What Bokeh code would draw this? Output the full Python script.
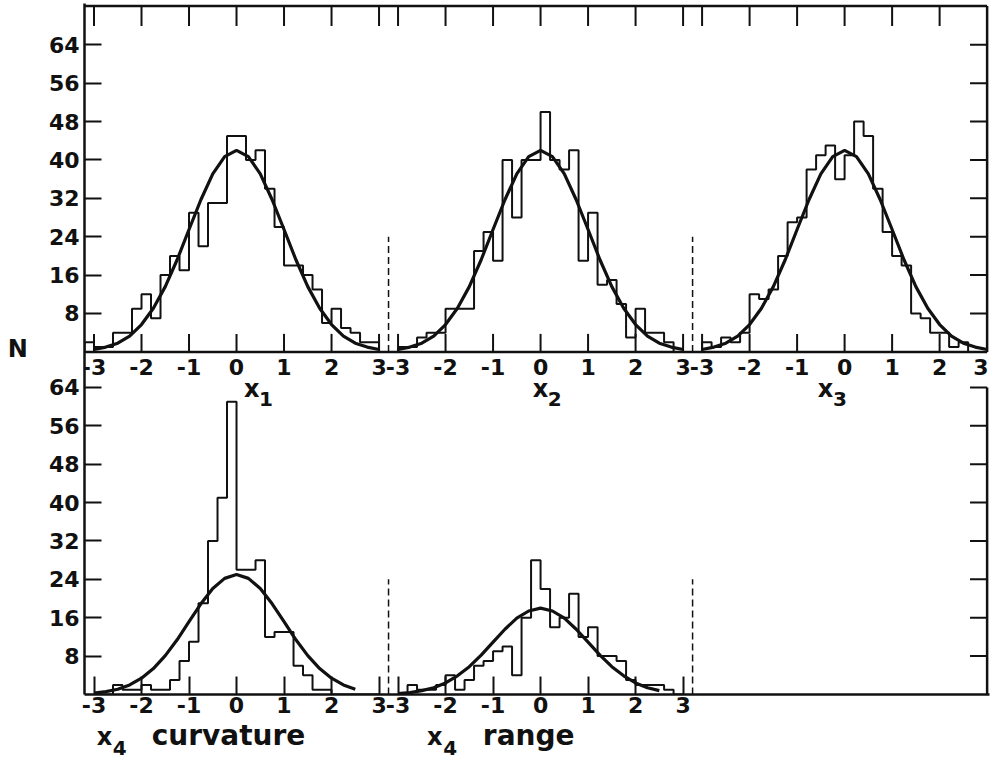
from bokeh.plotting import figure
from bokeh.layouts import column
from bokeh.models import Range1d, FixedTicker, ColumnDataSource, Label
from bokeh.core.properties import value, field
from bokeh.embed import file_html
from bokeh.resources import INLINE

# ---- data -------------------------------------------------------------
BIN = 0.2                      # bin width, in units of sigma

x1_left = -3.2
x1_counts = [2, 1, 1, 4, 4, 9, 12, 7, 16, 20, 17, 29, 22, 31, 31, 45, 45, 40,
             42, 34, 26, 18, 18, 16, 13, 6, 9, 5, 4, 2, 2]
x2_left = -3.0
x2_counts = [1, 1, 3, 4, 4, 9, 9, 9, 21, 25, 19, 40, 28, 40, 40, 50, 40, 38,
             42, 19, 29, 14, 15, 10, 3, 9, 4, 4, 2, 0]
x3_left = -3.0
x3_counts = [2, 1, 3, 2, 4, 12, 11, 13, 20, 27, 28, 38, 41, 43, 36, 41, 48, 45,
             34, 25, 20, 18, 8, 7, 4, 4, 1, 2, 0, 0]
curv_left = -3.0
curv_counts = [0, 0, 2, 1, 1, 2, 1, 1, 3, 7, 11, 19, 32, 41, 61, 26, 26, 28,
               12, 13, 13, 6, 4, 1, 1, 0, 0, 0, 0, 0]
range_left = -3.0
range_counts = [0, 2, 1, 1, 2, 4, 1, 3, 6, 7, 9, 10, 4, 16, 28, 22, 14, 16,
                21, 12, 14, 8, 8, 7, 3, 2, 2, 2, 1, 0]

# fitted normal curves, sampled along the axis
fit_x = [-3.0, -2.75, -2.5, -2.25, -2.0, -1.75, -1.5, -1.25, -1.0, -0.75, -0.5,
         -0.25, 0.0, 0.25, 0.5, 0.75, 1.0, 1.25, 1.5, 1.75, 2.0, 2.25, 2.5,
         2.75, 3.0]
x1_fit = [0.5, 1.0, 1.8, 3.3, 5.7, 9.1, 13.6, 19.2, 25.5, 31.7, 37.1, 40.7,
          42.0, 40.7, 37.1, 31.7, 25.5, 19.2, 13.6, 9.1, 5.7, 3.3, 1.8, 1.0, 0.5]
x2_fit = [0.5, 1.0, 1.8, 3.3, 5.7, 9.1, 13.6, 19.2, 25.5, 31.7, 37.1, 40.7,
          42.0, 40.7, 37.1, 31.7, 25.5, 19.2, 13.6, 9.1, 5.7, 3.3, 1.8, 1.0, 0.5]
x3_fit = [0.5, 1.0, 1.8, 3.3, 5.7, 9.1, 13.6, 19.2, 25.5, 31.7, 37.1, 40.7,
          42.0, 40.7, 37.1, 31.7, 25.5, 19.2, 13.6, 9.1, 5.7, 3.3, 1.8, 1.0, 0.5]
curv_fit = [0.3, 0.6, 1.1, 2.0, 3.4, 5.4, 8.1, 11.4, 15.2, 18.9, 22.1, 24.2,
            25.0, 24.2, 22.1, 18.9, 15.2, 11.4, 8.1, 5.4, 3.4, 2.0, 1.1]
range_fit = [0.2, 0.4, 0.8, 1.4, 2.4, 3.9, 5.8, 8.2, 10.9, 13.6, 15.9, 17.4,
             18.0, 17.4, 15.9, 13.6, 10.9, 8.2, 5.8, 3.9, 2.4, 1.4, 0.8]

x_tick_values = [-3, -2, -1, 0, 1, 2, 3]
n_tick_values = [8, 16, 24, 32, 40, 48, 56, 64]

# ---- layout constants ---------------------------------------------------
SECTION = 6.4        # horizontal offset between side-by-side histograms
TOP = 71.4           # vertical offset of the upper row
ROW_H = 72.1         # height of a row in counts
X_MIN, X_MAX = -3.2, 15.8
INK = "#111111"
FONT = "DejaVu Sans"
TICK_FONT_SIZE = "22px"

x_range = Range1d(X_MIN, 15.85)

p = figure(width=990, height=720, x_range=x_range,
           y_range=Range1d(0, 144), output_backend="svg", toolbar_location=None,
           min_border_left=84, min_border_right=1, min_border_top=3,
           min_border_bottom=26)
p.outline_line_color = None
p.grid.visible = False
p.background_fill_color = "white"
p.border_fill_color = "white"

# left axis: the N scale, repeated for both rows
y_ticks = [round(v, 4) for v in n_tick_values] + [round(v + TOP, 4) for v in n_tick_values]
ya = p.yaxis[0]
ya.ticker = FixedTicker(ticks=y_ticks)
ya.major_label_overrides = {t: str(v) for t, v in zip(y_ticks, n_tick_values * 2)}
ya.major_tick_in = 17
ya.major_tick_out = 0
ya.minor_tick_in = 0
ya.minor_tick_out = 0
ya.axis_line_width = 2.5
ya.axis_line_color = INK
ya.major_tick_line_width = 2
ya.major_tick_line_color = INK
ya.major_label_text_font = FONT
ya.major_label_text_font_style = "bold"
ya.major_label_text_font_size = TICK_FONT_SIZE
ya.major_label_text_color = INK
ya.major_label_standoff = 5
ya.axis_label = "N"
ya.axis_label_orientation = "horizontal"
ya.axis_label_text_font = FONT
ya.axis_label_text_font_style = "bold"
ya.axis_label_text_font_size = "24px"
ya.axis_label_text_color = INK
ya.axis_label_standoff = 18

# bottom axis: the lower row has two histograms
x_ticks, x_labels = [], []
for col in (0, 1):
    for t in x_tick_values:
        x_ticks.append(round(t + SECTION * col, 4))
        x_labels.append(str(t))
xa = p.xaxis[0]
xa.ticker = FixedTicker(ticks=x_ticks)
xa.major_label_overrides = dict(zip(x_ticks, x_labels))
xa.major_tick_in = 18
xa.major_tick_out = 0
xa.minor_tick_in = 0
xa.minor_tick_out = 0
xa.axis_line_width = 2.5
xa.axis_line_color = INK
xa.major_tick_line_width = 2
xa.major_tick_line_color = INK
xa.major_label_text_font = FONT
xa.major_label_text_font_style = "bold"
xa.major_label_text_font_size = TICK_FONT_SIZE
xa.major_label_text_color = INK
xa.major_label_standoff = 2

# frame pieces that are not axes
top_edge = TOP + ROW_H
p.segment(x0=[X_MIN, X_MIN, X_MAX, X_MAX], y0=[top_edge, TOP, TOP, 0],
          x1=[X_MAX, X_MAX, X_MAX, X_MAX], y1=[top_edge, TOP, top_edge, 64],
          line_color=INK, line_width=2.5)

# tick marks on the upper row (top edge and its base line) and right edge
tx, ty0, ty1 = [], [], []
for col in (0, 1, 2):
    for t in x_tick_values:
        u = t + SECTION * col
        if u >= X_MAX - 0.05:
            continue
        tx += [u, u]
        ty0 += [top_edge, TOP]
        ty1 += [top_edge - 4.2, TOP + 3.75]
p.segment(x0=tx, y0=ty0, x1=tx, y1=ty1, line_color=INK, line_width=2)
p.segment(x0=[X_MAX] * len(y_ticks), y0=y_ticks, x1=[X_MAX - 0.36] * len(y_ticks),
          y1=y_ticks, line_color=INK, line_width=2)

# tick labels under the upper row
lab_x, lab_t, lab_a = [], [], []
for col in (0, 1, 2):
    for t in x_tick_values:
        u = t + SECTION * col
        if u >= X_MAX - 0.05:
            lab_x.append(X_MAX + 0.03)
            lab_a.append("right")
        else:
            lab_x.append(u)
            lab_a.append("center")
        lab_t.append(str(t))
lab_src = ColumnDataSource(dict(x=lab_x, y=[TOP - 3.2] * len(lab_x), text=lab_t,
                                align=lab_a))
p.text(x="x", y="y", text="text", source=lab_src, text_align=field("align"),
       text_baseline="middle", text_font=value(FONT), text_font_style="bold",
       text_font_size=TICK_FONT_SIZE, text_color=INK)

# dashed separators between the histograms
sep_x = [SECTION / 2, SECTION * 1.5, SECTION / 2, SECTION * 1.5]
sep_b = [TOP, TOP, 0, 0]
p.segment(x0=sep_x, y0=sep_b, x1=sep_x, y1=[b + 24 for b in sep_b],
          line_color=INK, line_width=1.5, line_dash="7 4")

# histograms and their fitted curves
panels = [
    (x1_left, x1_counts, x1_fit, 0, TOP),
    (x2_left, x2_counts, x2_fit, 1, TOP),
    (x3_left, x3_counts, x3_fit, 2, TOP),
    (curv_left, curv_counts, curv_fit, 0, 0),
    (range_left, range_counts, range_fit, 1, 0),
]
for left, counts, fit, col, base in panels:
    shift = SECTION * col
    edges = [left + BIN * i + shift for i in range(len(counts) + 1)]
    xs = [edges[0]] + edges
    ys = [base] + [c + base for c in counts] + [base]
    p.step(xs, ys, mode="after", line_color=INK, line_width=2)
    p.line([x + shift for x in fit_x[:len(fit)]], [v + base for v in fit],
           line_color=INK, line_width=3.2)


def add_label(fig, x, y, text, size):
    fig.add_layout(Label(x=x, y=y, text=text, text_font=FONT,
                         text_font_style="bold", text_font_size=size,
                         text_color=INK, text_align="center",
                         text_baseline="middle"))


# names of the upper-row variables
for col, dx, sub in ((0, 0.32, "1"), (1, 0.0, "2"), (2, -0.4, "3")):
    add_label(p, SECTION * col + dx, TOP - 7.8, "x", "24px")
    add_label(p, SECTION * col + dx + 0.3, TOP - 9.8, sub, "20px")

# names of the lower-row variables, in a strip under the axis
names = figure(width=990, height=40, x_range=x_range, y_range=Range1d(0, 40),
               output_backend="svg", toolbar_location=None,
               x_axis_type=None, y_axis_type=None,
               min_border_left=84, min_border_right=1, min_border_top=0,
               min_border_bottom=0)
names.outline_line_color = None
names.grid.visible = False
names.background_fill_color = "white"
names.border_fill_color = "white"

add_label(names, -2.78, 24, "x", "24px")
add_label(names, -2.46, 13, "4", "20px")
add_label(names, -0.17, 25, "curvature", "28px")
add_label(names, 4.17, 24, "x", "24px")
add_label(names, 4.5, 13, "4", "20px")
add_label(names, 6.15, 25, "range", "28px")

layout = column(p, names, spacing=0)
open("out.html", "w").write(file_html(layout, INLINE))
